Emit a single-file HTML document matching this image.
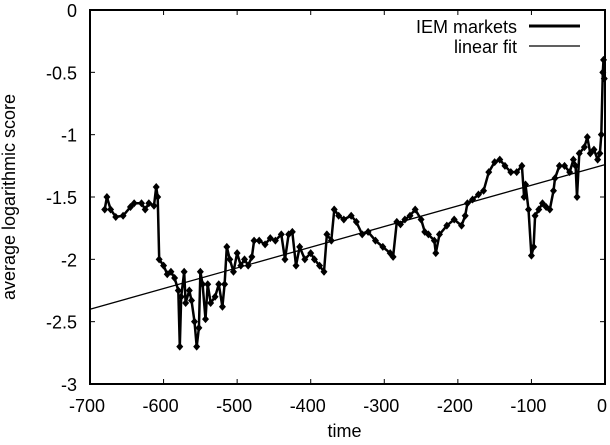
<!DOCTYPE html>
<html><head><meta charset="utf-8"><style>
body{margin:0;background:#fff;}
svg text{font-family:"Liberation Sans",sans-serif;font-size:18px;fill:#000;}
</style></head><body>
<svg id="chart" width="610" height="440" viewBox="0 0 610 440">
<g id="g"></g>
</svg>
<script>
const times=[-680,-677,-672,-665,-655,-645,-640,-630,-625,-620,-613,-610,-608,-606,-600,-595,-590,-585,-580,-578,-576,-572,-570,-565,-562,-558,-555,-552,-550,-547,-543,-540,-536,-530,-525,-520,-517,-514,-510,-505,-500,-495,-490,-485,-480,-477,-470,-462,-455,-448,-440,-435,-430,-425,-420,-415,-408,-400,-395,-388,-382,-378,-372,-368,-362,-355,-345,-338,-330,-322,-312,-302,-292,-288,-283,-278,-272,-265,-258,-250,-245,-240,-232,-230,-225,-215,-205,-195,-190,-187,-180,-172,-165,-158,-150,-143,-136,-128,-120,-113,-110,-108,-104,-100,-97,-95,-90,-85,-80,-75,-70,-68,-62,-55,-48,-43,-40,-38,-35,-28,-24,-20,-15,-10,-7,-5,-3,-2,-1];
const scores=[-1.6,-1.5,-1.6,-1.66,-1.65,-1.58,-1.55,-1.55,-1.6,-1.55,-1.57,-1.42,-1.5,-2.0,-2.05,-2.12,-2.1,-2.15,-2.25,-2.7,-2.3,-2.1,-2.35,-2.25,-2.33,-2.5,-2.7,-2.55,-2.1,-2.2,-2.48,-2.2,-2.35,-2.3,-2.2,-2.38,-2.2,-1.9,-2.0,-2.1,-1.95,-2.05,-2.0,-2.05,-1.98,-1.85,-1.85,-1.88,-1.83,-1.85,-1.8,-2.0,-1.8,-1.78,-2.05,-1.9,-2.0,-1.95,-2.0,-2.05,-2.1,-1.8,-1.85,-1.6,-1.65,-1.68,-1.65,-1.7,-1.8,-1.78,-1.85,-1.9,-1.95,-1.98,-1.7,-1.72,-1.68,-1.65,-1.6,-1.68,-1.78,-1.8,-1.85,-1.95,-1.8,-1.73,-1.68,-1.73,-1.65,-1.55,-1.52,-1.48,-1.45,-1.3,-1.22,-1.2,-1.25,-1.3,-1.3,-1.25,-1.5,-1.4,-1.6,-1.97,-1.9,-1.65,-1.6,-1.55,-1.58,-1.6,-1.45,-1.35,-1.25,-1.25,-1.3,-1.2,-1.25,-1.5,-1.15,-1.1,-1.02,-1.15,-1.12,-1.2,-1.15,-1.0,-0.5,-0.4,-0.55];
const fitX=[-700,0];
const fitY=[-2.4,-1.24];
const xTicks=[-700,-600,-500,-400,-300,-200,-100,0];
const yTicks=[0,-0.5,-1,-1.5,-2,-2.5,-3];
const L=90,R=605,T=10,B=384;
const X=v=>L+(v+700)/700*(R-L);
const Y=v=>T+(-v)/3*(B-T);
const NS="http://www.w3.org/2000/svg";
const g=document.getElementById('g');
function mk(tag,a){const e=document.createElementNS(NS,tag);for(const k in a)e.setAttribute(k,a[k]);g.appendChild(e);return e;}
xTicks.forEach(v=>{
 const t=mk('line',{x1:X(v),x2:X(v),y1:B,y2:B-5,stroke:'#000'});
 
 
 const t2=mk('line',{x1:X(v),x2:X(v),y1:T,y2:T+5,stroke:'#000'});
 
 
 const l=mk('text',{x:X(v)-3,y:B+28,'text-anchor':'middle'});l.textContent=v;
 
 
});
yTicks.forEach(v=>{
 const t=mk('line',{x1:L,x2:L+5,y1:Y(v),y2:Y(v),stroke:'#000'});
 
 
 const t2=mk('line',{x1:R,x2:R-5,y1:Y(v),y2:Y(v),stroke:'#000'});
 
 
 const l=mk('text',{x:L-13,y:Y(v)+7,'text-anchor':'end'});l.textContent=v;
 
 
});
const fit=mk('line',{x1:X(fitX[0]),y1:Y(fitY[0]),x2:X(fitX[1]),y2:Y(fitY[1]),stroke:'#000','stroke-width':1.3});


const pts=times.map((t,i)=>X(t).toFixed(1)+','+Y(scores[i]).toFixed(1)).join(' ');
const pl=mk('polyline',{points:pts,fill:'none',stroke:'#000','stroke-width':2.5});


times.forEach((t,i)=>{
 const x=X(t),y=Y(scores[i]);
 const p=mk('polygon',{points:`${x},${y-4} ${x+3.5},${y} ${x},${y+4} ${x-3.5},${y}`,fill:'#000'});
 
 
});
const fr=mk('rect',{x:L,y:T,width:R-L,height:B-T,fill:'none',stroke:'#000','stroke-width':2});


const xt=mk('text',{x:(L+R)/2-3,y:437,'text-anchor':'middle'});xt.textContent='time';


const yt=mk('text',{x:0,y:0,'text-anchor':'middle',transform:`translate(15,${(T+B)/2}) rotate(-90)`});yt.textContent='average logarithmic score';


const le1=mk('text',{x:517,y:33,'text-anchor':'end'});le1.textContent='IEM markets';


const ls1=mk('line',{x1:529,x2:580,y1:26,y2:26,stroke:'#000','stroke-width':3});


const le2=mk('text',{x:517,y:53,'text-anchor':'end'});le2.textContent='linear fit';


const ls2=mk('line',{x1:529,x2:580,y1:46,y2:46,stroke:'#000','stroke-width':1.3});


</script>
</body></html>
